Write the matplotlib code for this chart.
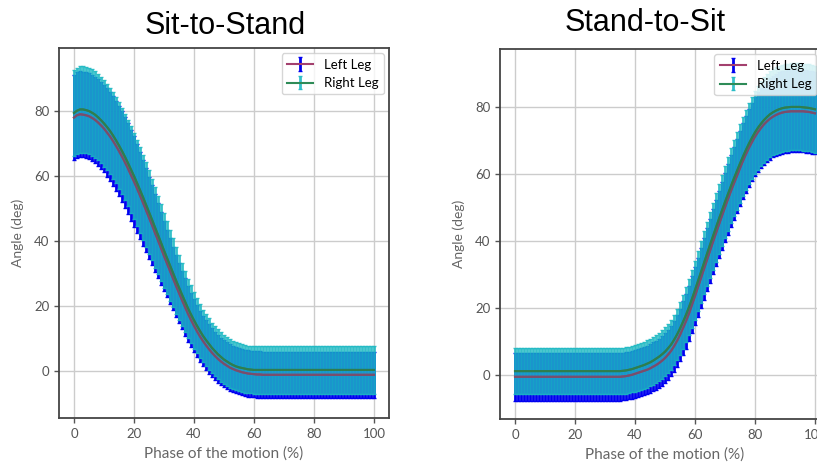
import numpy as np
import matplotlib.pyplot as plt

# phase of the motion, 0..100 %
phase = np.arange(0, 101)

# Sit-to-Stand: mean knee angle and standard deviation per leg
sts_left = [78.0, 78.7, 79.0, 78.9, 78.7, 78.4, 77.9, 77.3, 76.5, 75.6,
            74.6, 73.4, 72.2, 70.8, 69.3, 67.7, 66.0, 64.2, 62.3, 60.3,
            58.3, 56.2, 54.0, 51.8, 49.5, 47.2, 44.9, 42.5, 40.2, 37.8,
            35.4, 33.1, 30.8, 28.5, 26.2, 24.0, 21.8, 19.7, 17.6, 15.7,
            13.9, 12.2, 10.6, 9.2, 7.9, 6.7, 5.6, 4.6, 3.7, 2.9,
            2.2, 1.6, 1.0, 0.6, 0.2, -0.1, -0.4, -0.6, -0.8, -0.9,
            -1.0, -1.1, -1.1, -1.2, -1.2, -1.2, -1.2, -1.2, -1.2, -1.2,
            -1.2, -1.2, -1.2, -1.2, -1.2, -1.2, -1.2, -1.2, -1.2, -1.2,
            -1.2, -1.2, -1.2, -1.2, -1.2, -1.2, -1.2, -1.2, -1.2, -1.2,
            -1.2, -1.2, -1.2, -1.2, -1.2, -1.2, -1.2, -1.2, -1.2, -1.2,
            -1.2]
sts_right = [79.4, 80.1, 80.5, 80.5, 80.3, 80.0, 79.5, 78.9, 78.1, 77.2,
             76.2, 75.1, 73.9, 72.5, 71.0, 69.4, 67.7, 65.9, 64.0, 62.0,
             60.0, 57.9, 55.7, 53.5, 51.2, 48.9, 46.6, 44.2, 41.9, 39.5,
             37.1, 34.8, 32.5, 30.2, 27.9, 25.7, 23.5, 21.4, 19.3, 17.4,
             15.6, 13.9, 12.3, 10.8, 9.5, 8.3, 7.1, 6.1, 5.1, 4.3,
             3.5, 2.9, 2.3, 1.8, 1.4, 1.1, 0.9, 0.7, 0.5, 0.4,
             0.3, 0.3, 0.3, 0.3, 0.3, 0.3, 0.3, 0.3, 0.3, 0.3,
             0.3, 0.3, 0.3, 0.3, 0.3, 0.3, 0.3, 0.3, 0.3, 0.3,
             0.3, 0.3, 0.3, 0.3, 0.3, 0.3, 0.3, 0.3, 0.3, 0.3,
             0.3, 0.3, 0.3, 0.3, 0.3, 0.3, 0.3, 0.3, 0.3, 0.3,
             0.3]
sts_left_sd = [13.1, 13.2, 13.2, 13.2, 13.2, 13.2, 13.2, 13.3, 13.3, 13.4,
               13.5, 13.6, 13.7, 13.8, 13.9, 14.0, 14.1, 14.1, 14.1, 14.0,
               13.9, 13.7, 13.5, 13.2, 12.9, 12.6, 12.3, 12.0, 11.6, 11.2,
               10.8, 10.4, 10.1, 9.8, 9.5, 9.2, 9.0, 8.8, 8.6, 8.4,
               8.2, 8.0, 7.9, 7.8, 7.7, 7.6, 7.5, 7.5, 7.4, 7.3,
               7.3, 7.2, 7.2, 7.1, 7.1, 7.1, 7.1, 7.1, 7.1, 7.1,
               7.1, 7.1, 7.1, 7.1, 7.1, 7.1, 7.1, 7.1, 7.1, 7.1,
               7.1, 7.1, 7.1, 7.1, 7.1, 7.1, 7.1, 7.1, 7.1, 7.1,
               7.1, 7.1, 7.1, 7.1, 7.1, 7.1, 7.1, 7.1, 7.1, 7.1,
               7.1, 7.1, 7.1, 7.1, 7.1, 7.1, 7.1, 7.1, 7.1, 7.1,
               7.1]
sts_right_sd = [13.3, 13.3, 13.3, 13.3, 13.3, 13.3, 13.3, 13.3, 13.3, 13.3,
                13.3, 13.3, 13.3, 13.3, 13.3, 13.3, 13.3, 13.3, 13.3, 13.3,
                13.3, 13.3, 13.2, 13.1, 13.0, 12.8, 12.6, 12.4, 12.1, 11.8,
                11.5, 11.2, 10.9, 10.6, 10.3, 10.0, 9.7, 9.4, 9.1, 8.9,
                8.7, 8.5, 8.3, 8.1, 8.0, 7.9, 7.8, 7.8, 7.7, 7.6,
                7.6, 7.5, 7.5, 7.4, 7.4, 7.4, 7.4, 7.4, 7.3, 7.3,
                7.3, 7.3, 7.3, 7.3, 7.3, 7.3, 7.3, 7.3, 7.3, 7.3,
                7.3, 7.3, 7.3, 7.3, 7.3, 7.3, 7.3, 7.3, 7.3, 7.3,
                7.3, 7.3, 7.3, 7.3, 7.3, 7.3, 7.3, 7.3, 7.3, 7.3,
                7.3, 7.3, 7.3, 7.3, 7.3, 7.3, 7.3, 7.3, 7.3, 7.3,
                7.3]

# Stand-to-Sit
sts2_left = [-0.5, -0.5, -0.5, -0.5, -0.5, -0.5, -0.5, -0.5, -0.5, -0.5,
             -0.5, -0.5, -0.5, -0.5, -0.5, -0.5, -0.5, -0.5, -0.5, -0.5,
             -0.5, -0.5, -0.5, -0.5, -0.5, -0.5, -0.5, -0.5, -0.5, -0.5,
             -0.5, -0.5, -0.5, -0.5, -0.5, -0.5, -0.4, -0.3, -0.1, 0.1,
             0.4, 0.7, 1.0, 1.3, 1.6, 2.0, 2.5, 3.0, 3.6, 4.3,
             5.1, 6.1, 7.2, 8.6, 10.2, 12.0, 14.0, 16.1, 18.4, 21.0,
             23.6, 26.3, 29.0, 31.7, 34.4, 37.1, 39.8, 42.4, 45.0, 47.6,
             50.1, 52.6, 55.0, 57.3, 59.5, 61.8, 64.0, 66.0, 67.9, 69.6,
             71.2, 72.6, 73.8, 74.9, 75.8, 76.6, 77.2, 77.7, 78.1, 78.4,
             78.6, 78.7, 78.8, 78.8, 78.8, 78.8, 78.8, 78.7, 78.6, 78.4,
             78.2]
sts2_right = [1.2, 1.2, 1.2, 1.2, 1.2, 1.2, 1.2, 1.2, 1.2, 1.2,
              1.2, 1.2, 1.2, 1.2, 1.2, 1.2, 1.2, 1.2, 1.2, 1.2,
              1.2, 1.2, 1.2, 1.2, 1.2, 1.2, 1.2, 1.2, 1.2, 1.2,
              1.2, 1.2, 1.2, 1.2, 1.2, 1.2, 1.3, 1.4, 1.6, 1.8,
              2.1, 2.4, 2.7, 3.0, 3.4, 3.8, 4.3, 4.9, 5.5, 6.2,
              7.0, 8.0, 9.1, 10.5, 12.1, 13.9, 15.9, 18.0, 20.3, 22.8,
              25.4, 28.1, 30.8, 33.5, 36.2, 38.9, 41.5, 44.1, 46.7, 49.2,
              51.7, 54.1, 56.5, 58.8, 61.0, 63.2, 65.3, 67.3, 69.2, 70.9,
              72.5, 73.9, 75.1, 76.2, 77.1, 77.9, 78.5, 79.0, 79.4, 79.7,
              79.9, 80.0, 80.1, 80.1, 80.1, 80.1, 80.0, 79.9, 79.8, 79.6,
              79.4]
sts2_left_sd = [7.1, 7.1, 7.1, 7.1, 7.1, 7.1, 7.1, 7.1, 7.1, 7.1,
                7.1, 7.1, 7.1, 7.1, 7.1, 7.1, 7.1, 7.1, 7.1, 7.1,
                7.1, 7.1, 7.1, 7.1, 7.1, 7.1, 7.1, 7.1, 7.1, 7.1,
                7.1, 7.1, 7.1, 7.1, 7.1, 7.1, 7.1, 7.1, 7.1, 7.1,
                7.1, 7.1, 7.2, 7.2, 7.2, 7.2, 7.3, 7.3, 7.3, 7.4,
                7.4, 7.5, 7.6, 7.7, 7.8, 7.9, 8.0, 8.2, 8.3, 8.5,
                8.7, 8.8, 9.0, 9.2, 9.4, 9.5, 9.7, 9.9, 10.1, 10.2,
                10.4, 10.6, 10.7, 10.9, 11.0, 11.2, 11.3, 11.5, 11.6, 11.7,
                11.8, 11.9, 12.0, 12.0, 12.1, 12.2, 12.2, 12.2, 12.3, 12.3,
                12.3, 12.3, 12.3, 12.3, 12.3, 12.3, 12.3, 12.3, 12.3, 12.3,
                12.3]
sts2_right_sd = [6.9, 6.9, 6.9, 6.9, 6.9, 6.9, 6.9, 6.9, 6.9, 6.9,
                 6.9, 6.9, 6.9, 6.9, 6.9, 6.9, 6.9, 6.9, 6.9, 6.9,
                 6.9, 6.9, 6.9, 6.9, 6.9, 6.9, 6.9, 6.9, 6.9, 6.9,
                 6.9, 6.9, 6.9, 6.9, 6.9, 6.9, 6.9, 6.9, 6.9, 6.9,
                 7.0, 7.0, 7.0, 7.0, 7.1, 7.1, 7.1, 7.2, 7.2, 7.3,
                 7.3, 7.4, 7.5, 7.6, 7.7, 7.9, 8.0, 8.2, 8.4, 8.6,
                 8.8, 9.0, 9.2, 9.4, 9.6, 9.8, 10.0, 10.2, 10.4, 10.6,
                 10.8, 11.0, 11.2, 11.4, 11.6, 11.7, 11.9, 12.0, 12.2, 12.3,
                 12.5, 12.6, 12.7, 12.7, 12.8, 12.9, 12.9, 13.0, 13.0, 13.0,
                 13.0, 13.0, 13.0, 13.0, 13.0, 13.0, 13.0, 13.0, 13.0, 13.0,
                 13.0]

titles = ['Sit-to-Stand', 'Stand-to-Sit']
panels = [(sts_left, sts_left_sd, sts_right, sts_right_sd),
          (sts2_left, sts2_left_sd, sts2_right, sts2_right_sd)]

plt.rcParams['font.family'] = ['Lato', 'DejaVu Sans']

fig = plt.figure(figsize=(8.17, 4.69), dpi=100)
ax1 = fig.add_axes([0.0722, 0.1087, 0.4039, 0.7889])
ax2 = fig.add_axes([0.612, 0.1066, 0.4039, 0.7889])   # runs off the right edge
axes = [ax1, ax2]
title_pos = [(0.276, 0.945), (0.790, 0.952)]
legend_anchor = [(1.0, 1.0), (0.975, 1.0)]

for ax, (l, lsd, r, rsd), title, tpos, anchor in zip(axes, panels, titles,
                                                     title_pos, legend_anchor):
    ax.errorbar(phase, l, yerr=lsd, color='#a3406e', lw=1.5, ecolor='#0000f0',
                elinewidth=2, capsize=1.2, label='Left Leg')
    ax.errorbar(phase, r, yerr=rsd, color='#2e8b57', lw=1.5,
                ecolor=(0.1, 0.72, 0.76, 0.88), elinewidth=2, capsize=1.2,
                label='Right Leg')
    # put the mean lines back on top of the bars
    ax.plot(phase, l, color='#774f6c', lw=1.5, zorder=4)
    ax.plot(phase, r, color='#2e7d4f', lw=1.5, zorder=4)

    ax.set_xlim(-5, 105)
    ax.set_xticks([0, 20, 40, 60, 80, 100])
    ax.set_yticks([0, 20, 40, 60, 80])
    ax.grid(True, color='#cccccc', lw=1)
    ax.set_axisbelow(True)
    for s in ax.spines.values():
        s.set_color('#444444')
        s.set_linewidth(1.3)
    ax.tick_params(colors='#555555', labelsize=9.5, length=3.5, width=1)
    ax.set_xlabel('Phase of the motion (%)', color='#666666', fontsize=11,
                  labelpad=5)
    ax.set_ylabel('Angle (deg)', color='#666666', fontsize=10, labelpad=7)
    ax.legend(loc='upper right', bbox_to_anchor=anchor, fontsize=9.5,
              framealpha=0.8, edgecolor='#cccccc', handlelength=2.0,
              borderaxespad=0.4)
    fig.text(tpos[0], tpos[1], title, ha='center', va='center',
             fontsize=22, family='Liberation Sans')

ax1.set_ylim(-14.5, 99.4)
ax2.set_ylim(-13.1, 97.4)

fig.savefig('out.png', dpi=100)
